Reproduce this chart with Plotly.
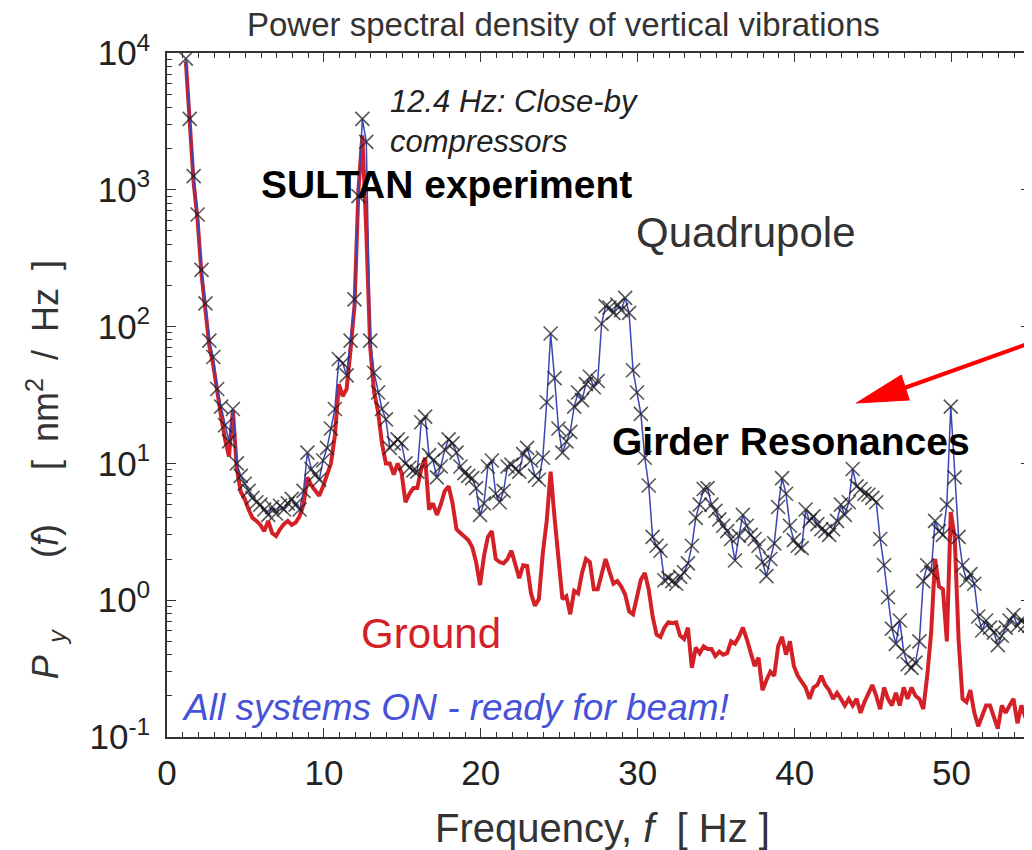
import plotly.graph_objects as go

# frequency bins [Hz]
freq = [
    1.2, 1.45, 1.7, 1.95, 2.2, 2.45, 2.7, 2.95,
    3.2, 3.45, 3.7, 3.95, 4.2, 4.45, 4.7, 4.95,
    5.2, 5.45, 5.7, 5.95, 6.2, 6.45, 6.7, 6.95,
    7.2, 7.45, 7.7, 7.95, 8.2, 8.45, 8.7, 8.95,
    9.2, 9.45, 9.7, 9.95, 10.2, 10.45, 10.7, 10.95,
    11.2, 11.45, 11.7, 11.95, 12.2, 12.45, 12.7, 12.95,
    13.2, 13.45, 13.7, 13.95, 14.2, 14.45, 14.7, 14.95,
    15.2, 15.45, 15.7, 15.95, 16.2, 16.45, 16.7, 16.95,
    17.2, 17.45, 17.7, 17.95, 18.2, 18.45, 18.7, 18.95,
    19.2, 19.45, 19.7, 19.95, 20.2, 20.45, 20.7, 20.95,
    21.2, 21.45, 21.7, 21.95, 22.2, 22.45, 22.7, 22.95,
    23.2, 23.45, 23.7, 23.95, 24.2, 24.45, 24.7, 24.95,
    25.2, 25.45, 25.7, 25.95, 26.2, 26.45, 26.7, 26.95,
    27.2, 27.45, 27.7, 27.95, 28.2, 28.45, 28.7, 28.95,
    29.2, 29.45, 29.7, 29.95, 30.2, 30.45, 30.7, 30.95,
    31.2, 31.45, 31.7, 31.95, 32.2, 32.45, 32.7, 32.95,
    33.2, 33.45, 33.7, 33.95, 34.2, 34.45, 34.7, 34.95,
    35.2, 35.45, 35.7, 35.95, 36.2, 36.45, 36.7, 36.95,
    37.2, 37.45, 37.7, 37.95, 38.2, 38.45, 38.7, 38.95,
    39.2, 39.45, 39.7, 39.95, 40.2, 40.45, 40.7, 40.95,
    41.2, 41.45, 41.7, 41.95, 42.2, 42.45, 42.7, 42.95,
    43.2, 43.45, 43.7, 43.95, 44.2, 44.45, 44.7, 44.95,
    45.2, 45.45, 45.7, 45.95, 46.2, 46.45, 46.7, 46.95,
    47.2, 47.45, 47.7, 47.95, 48.2, 48.45, 48.7, 48.95,
    49.2, 49.45, 49.7, 49.95, 50.2, 50.45, 50.7, 50.95,
    51.2, 51.45, 51.7, 51.95, 52.2, 52.45, 52.7, 52.95,
    53.2, 53.45, 53.7, 53.95, 54.2, 54.45, 54.7, 54.95,
]

# PSD of the quadrupole [nm^2/Hz]
quadrupole = [
    9100, 3300, 1260, 660, 260, 148, 79, 60,
    35, 26, 19, 14.5, 25, 10, 8.1, 7.1,
    6.3, 5.6, 5.2, 5.0, 4.6, 4.2, 4.8, 4.3,
    4.9, 4.6, 5.1, 5.5, 5.0, 4.6, 6.3, 12,
    9.1, 8.3, 7.6, 10.5, 13, 18, 25, 58,
    54, 44, 79, 158, 900, 3300, 2240, 79,
    46, 33, 25, 21, 13, 14, 15, 14,
    10, 9.3, 8.9, 8.7, 20, 22, 11.5, 10.5,
    7.9, 9.5, 12.6, 15, 14, 12, 9.5, 8.5,
    8.1, 7.8, 6.6, 4.2, 5.1, 9.5, 10.5, 6.0,
    5.2, 6.3, 9.5, 9.8, 9.1, 8.7, 11.7, 13,
    10.5, 8.1, 7.6, 11, 28, 89, 42, 18,
    12, 14.5, 17, 26, 33, 29, 38, 43,
    36, 40, 105, 141, 138, 126, 145, 132,
    162, 126, 48, 33, 23, 11, 6.9, 2.9,
    2.5, 2.3, 1.4, 1.45, 1.38, 1.32, 1.48, 1.6,
    1.86, 2.5, 4.0, 5.0, 6.5, 6.6, 5.0, 4.5,
    3.9, 3.5, 3.2, 2.8, 1.95, 2.95, 4.2, 3.5,
    3.0, 2.8, 2.5, 1.9, 1.5, 2.0, 2.6, 4.8,
    7.8, 6.0, 3.5, 2.75, 2.5, 2.4, 4.6, 3.8,
    4.1, 3.6, 3.3, 3.2, 3.0, 3.3, 3.8, 5.0,
    4.2, 5.2, 9.1, 6.8, 6.5, 6.0, 5.9, 5.6,
    5.2, 2.8, 1.8, 1.05, 0.62, 0.48, 0.71, 0.42,
    0.34, 0.32, 0.35, 0.50, 1.38, 1.8, 1.6, 3.8,
    3.2, 3.0, 5.0, 26, 7.9, 2.9, 1.8, 1.4,
    1.55, 1.32, 0.76, 0.60, 0.71, 0.63, 0.58, 0.47,
    0.55, 0.63, 0.71, 0.78, 0.65, 0.72, 0.66, 0.65,
]

# PSD of the ground [nm^2/Hz]
ground = [
    8700, 2800, 1120, 600, 240, 132, 72, 52,
    32, 22, 15, 11.2, 24.5, 9.1, 6.2, 5.5,
    4.6, 4.0, 3.8, 3.55, 3.2, 3.8, 3.1, 2.95,
    3.3, 3.6, 3.8, 3.55, 3.7, 4.1, 5.0, 7.9,
    6.9, 6.3, 5.8, 6.8, 8.3, 10, 16, 38,
    31, 35, 68, 141, 1000, 2500, 500, 71,
    33, 24, 14, 10, 10, 8.3, 10, 8.5,
    5.2, 6.0, 6.6, 6.6, 9.1, 11, 4.6, 5.1,
    4.2, 5.0, 6.3, 6.8, 5.1, 3.3, 3.1, 2.9,
    2.75, 2.45, 1.9, 1.29, 2.1, 2.9, 3.2, 2.0,
    1.9, 1.86, 2.0, 2.3, 1.8, 1.45, 1.8, 1.78,
    1.12, 0.91, 1.02, 2.2, 3.8, 8.7, 4.0, 2.0,
    1.02, 1.07, 0.79, 1.17, 1.12, 1.58, 2.0, 1.9,
    1.2, 1.2, 1.58, 2.0, 1.62, 1.32, 1.38, 1.26,
    1.1, 0.83, 0.79, 1.1, 1.41, 1.58, 1.2, 0.76,
    0.56, 0.54, 0.63, 0.69, 0.68, 0.69, 0.55, 0.52,
    0.63, 0.32, 0.45, 0.41, 0.46, 0.44, 0.44, 0.39,
    0.42, 0.40, 0.41, 0.50, 0.48, 0.54, 0.63, 0.52,
    0.42, 0.33, 0.38, 0.22, 0.26, 0.30, 0.28, 0.46,
    0.54, 0.40, 0.50, 0.33, 0.28, 0.25, 0.23, 0.19,
    0.23, 0.24, 0.28, 0.24, 0.22, 0.19, 0.21, 0.19,
    0.17, 0.19, 0.17, 0.19, 0.15, 0.18, 0.21, 0.24,
    0.20, 0.16, 0.23, 0.19, 0.17, 0.21, 0.17, 0.23,
    0.19, 0.23, 0.20, 0.19, 0.16, 0.28, 0.58, 2.0,
    1.26, 1.2, 0.50, 4.4, 2.9, 0.51, 0.19, 0.18,
    0.22, 0.15, 0.12, 0.145, 0.17, 0.17, 0.14, 0.115,
    0.17, 0.15, 0.17, 0.19, 0.126, 0.17, 0.14, 0.12,
]

x_ticks = [0, 10, 20, 30, 40, 50]
y_ticks = [0.1, 1, 10, 100, 1000, 10000]
y_ticktext = ["10<sup>-1</sup>", "10<sup>0</sup>", "10<sup>1</sup>",
              "10<sup>2</sup>", "10<sup>3</sup>", "10<sup>4</sup>"]

assert len(freq) == len(quadrupole) == len(ground)

FONT = "Liberation Sans, Arial, Helvetica, sans-serif"
RED = "#d42128"
AXIS = "#333333"

# the page body adds an 8px margin, so the figure is 8px smaller
W, H, PAD = 1024, 842, 8
# plot area in page pixels (used to place the free text)
L, R, T, B = 167, 1032, 53, 737


def px(x, y):
    return (x - L) / (R - L), (B - y) / (B - T)


fig = go.Figure()

fig.add_trace(go.Scatter(
    x=freq, y=ground, mode="lines", name="Ground",
    line=dict(color=RED, width=4),
))
fig.add_trace(go.Scatter(
    x=freq, y=quadrupole, mode="lines+markers", name="Quadrupole",
    line=dict(color="#3b46b4", width=1.5),
    marker=dict(symbol="x-thin", size=14,
                line=dict(color="rgba(30,30,30,0.75)", width=1.6)),
))

# free text labels: (text, anchor x px, centre y px, size, colour, xanchor)
labels = [
    ("<i>12.4 Hz: Close-by<br>compressors</i>", 390, 121, 31, "#222222", "left"),
    ("<b>SULTAN experiment</b>", 260, 184, 39, "#000000", "left"),
    ("Quadrupole", 636, 232, 42, AXIS, "left"),
    ("<b>Girder Resonances</b>", 612, 442, 39, "#000000", "left"),
    ("Ground", 360, 633, 42, RED, "left"),
    ("<i>All systems ON - ready for beam!</i>", 181, 707, 37, "#4652d8", "left"),
    ("Power spectral density of vertical vibrations", 246, 25, 33, AXIS, "left"),
    ("Frequency, <i>f</i>  [ Hz ]", 604, 828, 40, AXIS, "center"),
]
for text, lx, cy, size, color, anchor in labels:
    xp, yp = px(lx, cy)
    fig.add_annotation(x=xp, y=yp, xref="paper", yref="paper", text=text,
                       showarrow=False, xanchor=anchor, yanchor="middle",
                       align="left", borderpad=0,
                       font=dict(size=size, color=color))

# y axis title, written sideways
xp, yp = px(45, 470)
fig.add_annotation(x=xp, y=yp, xref="paper", yref="paper", textangle=-90,
                   xanchor="center", yanchor="middle",
                   text=("<i>P</i><sub>\u2002<i>y</i></sub>\u2003\u2003(<i>f</i>)"
                         "\u2003\u2002[\u2002nm<sup>2</sup>\u2002/\u2002Hz\u2002]"),
                   showarrow=False, font=dict(size=36, color=AXIS))

# red arrow pointing at the girder resonances
x0, y0 = px(1060, 333)
x1, y1 = px(906, 388)
fig.add_shape(type="line", xref="paper", yref="paper", x0=x0, y0=y0, x1=x1, y1=y1,
              line=dict(color="#ff0000", width=4))
tip = px(858, 403)
c1 = px(903, 375)
c2 = px(911, 400)
fig.add_shape(type="path", xref="paper", yref="paper",
              path=f"M {tip[0]},{tip[1]} L {c1[0]},{c1[1]} L {c2[0]},{c2[1]} Z",
              fillcolor="#ff0000", line=dict(color="#ff0000", width=1))

fig.update_layout(
    width=W, height=H,
    margin=dict(l=L - PAD, r=W - (R - PAD), t=T - PAD, b=H - (B - PAD)),
    plot_bgcolor="white", paper_bgcolor="white",
    showlegend=False,
    font=dict(family=FONT, size=35, color="#222222"),
    xaxis=dict(
        range=[0, 55], tickvals=x_ticks, ticks="inside", ticklen=9,
        tickcolor=AXIS, showline=True, linecolor=AXIS, linewidth=1.5,
        mirror="ticks", showgrid=False, zeroline=False,
        minor=dict(ticks="inside", ticklen=5, dtick=1, tickcolor=AXIS),
        tickfont=dict(size=35), ticklabelstandoff=4,
    ),
    yaxis=dict(
        type="log", range=[-1, 4], tickvals=y_ticks, ticktext=y_ticktext,
        ticks="inside", ticklen=9, tickcolor=AXIS, showline=True,
        linecolor=AXIS, linewidth=1.5, mirror="ticks", showgrid=False,
        zeroline=False,
        minor=dict(ticks="inside", ticklen=5, dtick="D1", tickcolor=AXIS),
        tickfont=dict(size=35), ticklabelstandoff=8,
    ),
)

fig.write_html("out.html")
